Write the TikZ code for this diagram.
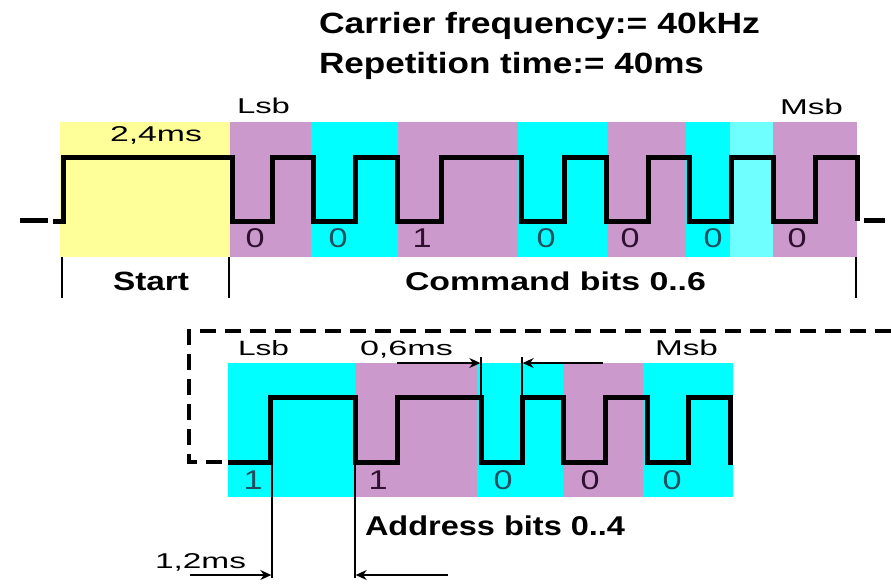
\documentclass[tikz,border=0pt]{standalone}
\usepackage{fontspec}
\setmainfont{Liberation Sans}
\usetikzlibrary{arrows.meta}
\definecolor{ylw}{HTML}{FFFF99}
\definecolor{prp}{HTML}{CC99CC}
\definecolor{cyn}{HTML}{00FFFF}
\definecolor{lcyn}{HTML}{70FFFF}
\definecolor{dcyn}{HTML}{1F5060}
\definecolor{dprp}{HTML}{301030}
% width W, cap height H, text
\newcommand{\fitbox}[3]{\resizebox{#1pt}{#2pt}{\fontsize{10pt}{12pt}\selectfont\rule{0pt}{7pt}\smash{#3}}}
\tikzset{
  wave/.style={line width=5pt, line join=miter, black},
  tickline/.style={line width=1.6pt, black},
  dimline/.style={line width=1.4pt, black},
  dimarrow/.style={line width=1.4pt, black, -{Stealth[length=11pt,width=10pt]}},
  lbl/.style={anchor=base west, inner sep=0pt, outer sep=0pt},
  bitc/.style={inner sep=0pt, outer sep=0pt, text=dcyn, anchor=base},
  bitp/.style={inner sep=0pt, outer sep=0pt, text=dprp, anchor=base},
  framedash/.style={line width=3.5pt, dash pattern=on 16pt off 9pt, black},
}
\begin{document}
\begin{tikzpicture}[x=1pt,y=-1pt]
\useasboundingbox (0,0) rectangle (891,587);
\fill[white] (0,0) rectangle (891,587);
% ---- top band backgrounds
\fill[ylw] (60,122) rectangle (230,257);
\fill[prp] (230,122) rectangle (311,257);
\fill[cyn] (311,122) rectangle (398,257);
\fill[prp] (398,122) rectangle (518,257);
\fill[cyn] (518,122) rectangle (607,257);
\fill[prp] (607,122) rectangle (686,257);
\fill[cyn] (686,122) rectangle (730,257);
\fill[lcyn] (730,122) rectangle (773,257);
\fill[prp] (773,122) rectangle (857,257);
% ---- bottom band backgrounds
\fill[cyn] (228,363) rectangle (355,497);
\fill[prp] (355,363) rectangle (477,497);
\fill[cyn] (477,363) rectangle (563,497);
\fill[prp] (563,363) rectangle (643,497);
\fill[cyn] (643,363) rectangle (733,497);
% ---- titles
\node[lbl] (title1) at (319,33) {\fitbox{441}{20.5}{\bfseries Carrier frequency:= 40kHz}};
\node[lbl] (title2) at (319,73) {\fitbox{385}{20.5}{\bfseries Repetition time:= 40ms}};
% ---- top labels
\node[lbl] (lsbtop) at (237,113.5) {\fitbox{53}{15}{Lsb}};
\node[lbl] (msbtop) at (780,114) {\fitbox{63}{15}{Msb}};
\node[lbl] (t24) at (110,141.5) {\fitbox{92}{15}{2,4ms}};
\node[lbl] (start) at (113,290) {\fitbox{76}{18.5}{\bfseries Start}};
\node[lbl] (cmd) at (405,290) {\fitbox{301}{18}{\bfseries Command bits 0..6}};
% ---- top bit digits
\node[bitp] (c0) at (255,247.5) {\fitbox{19}{19}{0}};
\node[bitc] (c1) at (338,247.5) {\fitbox{19}{19}{0}};
\node[bitp] (c2) at (422,247.5) {\fitbox{19}{19}{1}};
\node[bitc] (c3) at (546,247.5) {\fitbox{19}{19}{0}};
\node[bitp] (c4) at (630,247.5) {\fitbox{19}{19}{0}};
\node[bitc] (c5) at (713,247.5) {\fitbox{19}{19}{0}};
\node[bitp] (c6) at (797,247.5) {\fitbox{19}{19}{0}};
% ---- ticks under top band
\draw[tickline] (62,257) -- (62,298);
\draw[tickline] (229,257) -- (229,298);
\draw[tickline] (856,257) -- (856,298);
% ---- top waveform
\draw[wave] (20,220) -- (48,220);
\draw[wave] (53,221) -- (63,221) -- (63,157) -- (232,157) -- (232,221)
  -- (272,221) -- (272,157) -- (313,157) -- (313,221)
  -- (355,221) -- (355,157) -- (397,157) -- (397,221)
  -- (441,221) -- (441,157) -- (521,157) -- (521,221)
  -- (564,221) -- (564,157) -- (606,157) -- (606,221)
  -- (648,221) -- (648,157) -- (689,157) -- (689,221)
  -- (731,221) -- (731,157) -- (773,157) -- (773,221)
  -- (815,221) -- (815,157) -- (857,157) -- (857,221);
\draw[wave] (864,220) -- (885,220);
% ---- dashed frame
\draw[framedash] (891,331) -- (189,331) -- (189,462) -- (228,462);
% ---- bottom labels
\node[lbl] (lsbbot) at (238,355) {\fitbox{51}{14.5}{Lsb}};
\node[lbl] (t06) at (360,355) {\fitbox{93}{14.5}{0,6ms}};
\node[lbl] (msbbot) at (655,355) {\fitbox{63}{15}{Msb}};
\node[lbl] (addr) at (365,535) {\fitbox{260}{19}{\bfseries Address bits 0..4}};
\node[lbl] (t12) at (155,568) {\fitbox{91}{15}{1,2ms}};
% ---- bottom bit digits
\node[bitc] (a0) at (253,489) {\fitbox{19}{19}{1}};
\node[bitp] (a1) at (378,489) {\fitbox{19}{19}{1}};
\node[bitc] (a2) at (503,489) {\fitbox{19}{19}{0}};
\node[bitp] (a3) at (590,489) {\fitbox{19}{19}{0}};
\node[bitc] (a4) at (672,489) {\fitbox{19}{19}{0}};
% ---- dimension lines
\coordinate (d06a) at (481,397);
\coordinate (d06b) at (522,397);
\coordinate (d06at) at (481,357);
\coordinate (d06bt) at (522,357);
\coordinate (d06l) at (397,363);
\coordinate (d06r) at (603,363);
\draw[dimline] (d06a) -- (d06at);
\draw[dimline] (d06b) -- (d06bt);
\draw[dimarrow] (d06l) -- (480.3,363);
\draw[dimarrow] (d06r) -- (522.7,363);
\coordinate (d12a) at (272,462);
\coordinate (d12b) at (355,462);
\coordinate (d12ab) at (272,578);
\coordinate (d12bb) at (355,578);
\coordinate (d12l) at (190,575);
\coordinate (d12r) at (448,575);
\draw[dimline] (d12a) -- (d12ab);
\draw[dimline] (d12b) -- (d12bb);
\draw[dimarrow] (d12l) -- (271.3,575);
\draw[dimarrow] (d12r) -- (355.7,575);
% ---- bottom waveform
\draw[wave] (228,462) -- (270,462) -- (270,397) -- (355,397) -- (355,462)
  -- (397,462) -- (397,397) -- (481,397) -- (481,462)
  -- (522,462) -- (522,397) -- (563,397) -- (563,462)
  -- (605,462) -- (605,397) -- (647,397) -- (647,462)
  -- (688,462) -- (688,397) -- (730,397) -- (730,464.5);
\end{tikzpicture}
\end{document}
